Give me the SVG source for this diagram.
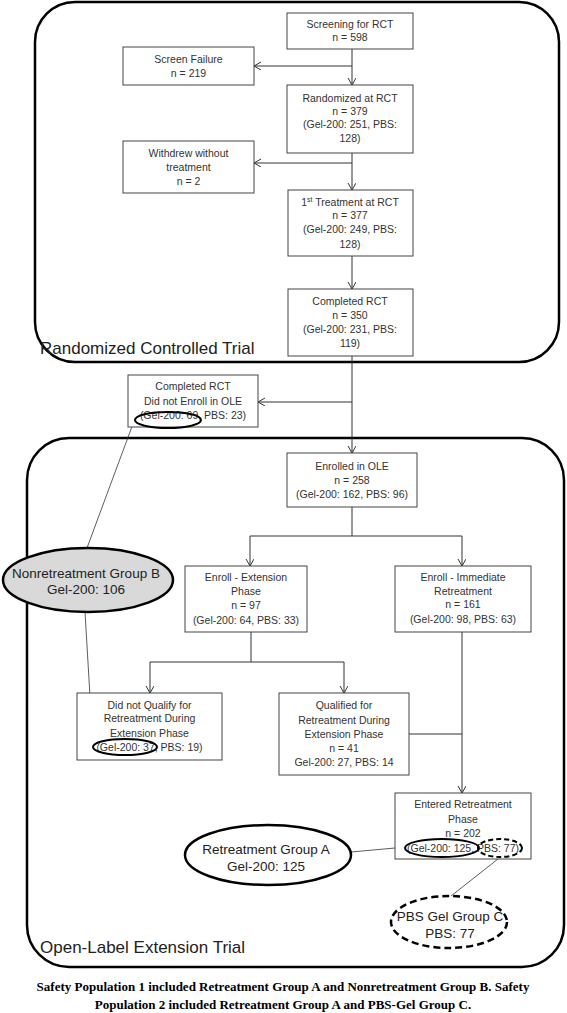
<svg xmlns="http://www.w3.org/2000/svg" width="567" height="1013" viewBox="0 0 567 1013">
<style>
.frame{fill:none;stroke:#000;stroke-width:2.5}
.box{fill:#fff;stroke:#444;stroke-width:1}
.t{font-family:"Liberation Sans",Arial,sans-serif;font-size:10.5px;fill:#333;text-anchor:middle}
.lbl{font-family:"Liberation Sans",Arial,sans-serif;font-size:17px;fill:#222}
.ell{font-family:"Liberation Sans",Arial,sans-serif;font-size:13.5px;fill:#222;text-anchor:middle}
.cap{font-family:"Liberation Serif","Times New Roman",serif;font-size:13px;font-weight:bold;fill:#000;text-anchor:middle}
.c{fill:none;stroke:#333;stroke-width:1}
.thin{fill:none;stroke:#333;stroke-width:0.8}
</style>
<defs>
<marker id="arr" markerWidth="10" markerHeight="10" refX="8" refY="4" orient="auto" markerUnits="userSpaceOnUse">
<path d="M1,0 L8,4 L1,8" fill="none" stroke="#333" stroke-width="1"/>
</marker>
</defs>
<rect width="567" height="1013" fill="#fff"/>

<g id="frame-rct">
<rect class="frame" x="35" y="2" width="524" height="360" rx="40" ry="40"/>
<text class="lbl" x="40" y="354">Randomized Controlled Trial</text>
</g>
<g id="frame-ole">
<rect class="frame" x="27" y="438" width="537" height="529" rx="42" ry="42"/>
<text class="lbl" x="40" y="953">Open-Label Extension Trial</text>
</g>

<g id="connectors">
<path class="c" d="M352,49 V85" marker-end="url(#arr)"/>
<path class="c" d="M352,66 H254" marker-end="url(#arr)"/>
<path class="c" d="M352,153 V190" marker-end="url(#arr)"/>
<path class="c" d="M352,163 H254" marker-end="url(#arr)"/>
<path class="c" d="M352,256 V289" marker-end="url(#arr)"/>
<path class="c" d="M352,356 V453" marker-end="url(#arr)"/>
<path class="c" d="M352,402 H258" marker-end="url(#arr)"/>
<path class="c" d="M352,507 V536"/>
<path class="c" d="M250,536 H462"/>
<path class="c" d="M250,536 V566" marker-end="url(#arr)"/>
<path class="c" d="M462,536 V566" marker-end="url(#arr)"/>
<path class="c" d="M251,632 V662"/>
<path class="c" d="M150,662 H344"/>
<path class="c" d="M150,662 V693" marker-end="url(#arr)"/>
<path class="c" d="M344,662 V693" marker-end="url(#arr)"/>
<path class="c" d="M462,632 V793" marker-end="url(#arr)"/>
<path class="c" d="M409,734 H462"/>
<path class="thin" d="M87,548 L137,413"/>
<path class="thin" d="M85,612 L93,747"/>
<path class="thin" d="M351,852 L406,847"/>
<path class="thin" d="M498,859 L451,896"/>
</g>

<g id="screening">
<rect class="box" x="287" y="13" width="126" height="36"/>
<text class="t" x="350" y="28">Screening for RCT</text>
<text class="t" x="350" y="41">n = 598</text>
</g>
<g id="screen-failure">
<rect class="box" x="123" y="47" width="131" height="38"/>
<text class="t" x="188.5" y="63">Screen Failure</text>
<text class="t" x="188.5" y="77">n = 219</text>
</g>
<g id="randomized">
<rect class="box" x="287" y="85" width="126" height="68"/>
<text class="t" x="350" y="102">Randomized at RCT</text>
<text class="t" x="350" y="115">n = 379</text>
<text class="t" x="350" y="128">(Gel-200: 251, PBS:</text>
<text class="t" x="350" y="142">128)</text>
</g>
<g id="withdrew">
<rect class="box" x="123" y="141" width="131" height="52"/>
<text class="t" x="188.5" y="157">Withdrew without</text>
<text class="t" x="188.5" y="171">treatment</text>
<text class="t" x="188.5" y="185">n = 2</text>
</g>
<g id="first-treatment">
<rect class="box" x="288" y="190" width="125" height="66"/>
<text class="t" x="350" y="206">1<tspan font-size="7" dy="-4">st</tspan><tspan dy="4"> Treatment  at RCT</tspan></text>
<text class="t" x="350" y="219">n = 377</text>
<text class="t" x="350" y="233">(Gel-200: 249, PBS:</text>
<text class="t" x="350" y="248">128)</text>
</g>
<g id="completed-rct">
<rect class="box" x="288" y="289" width="125" height="67"/>
<text class="t" x="350" y="305">Completed  RCT</text>
<text class="t" x="350" y="319">n = 350</text>
<text class="t" x="350" y="333">(Gel-200: 231, PBS:</text>
<text class="t" x="350" y="347">119)</text>
</g>
<g id="not-enrolled">
<rect class="box" x="128" y="375" width="130" height="52"/>
<text class="t" x="193" y="390">Completed  RCT</text>
<text class="t" x="193" y="405">Did not Enroll in OLE</text>
<text class="t" x="193" y="419">(Gel-200: 69, PBS: 23)</text>
<ellipse cx="168" cy="420" rx="33" ry="8" fill="none" stroke="#000" stroke-width="2"/>
</g>
<g id="enrolled-ole">
<rect class="box" x="287" y="453" width="130" height="54"/>
<text class="t" x="352" y="470">Enrolled in OLE</text>
<text class="t" x="352" y="484">n = 258</text>
<text class="t" x="352" y="498">(Gel-200: 162, PBS: 96)</text>
</g>
<g id="enroll-extension">
<rect class="box" x="185" y="566" width="122" height="66"/>
<text class="t" x="246" y="581">Enroll - Extension</text>
<text class="t" x="246" y="595">Phase</text>
<text class="t" x="246" y="609">n = 97</text>
<text class="t" x="246" y="624">(Gel-200: 64, PBS: 33)</text>
</g>
<g id="enroll-immediate">
<rect class="box" x="395" y="566" width="136" height="66"/>
<text class="t" x="463" y="581">Enroll - Immediate</text>
<text class="t" x="463" y="595">Retreatment</text>
<text class="t" x="463" y="608">n = 161</text>
<text class="t" x="463" y="623">(Gel-200: 98, PBS: 63)</text>
</g>
<g id="did-not-qualify">
<rect class="box" x="77" y="693" width="145" height="67"/>
<text class="t" x="149.5" y="709">Did not Qualify for</text>
<text class="t" x="149.5" y="722">Retreatment  During</text>
<text class="t" x="149.5" y="737">Extension Phase</text>
<text class="t" x="149.5" y="751">(Gel-200: 37, PBS: 19)</text>
<ellipse cx="125" cy="747" rx="32" ry="8" fill="none" stroke="#000" stroke-width="2"/>
</g>
<g id="qualified">
<rect class="box" x="279" y="693" width="130" height="82"/>
<text class="t" x="344" y="709">Qualified for</text>
<text class="t" x="344" y="724">Retreatment  During</text>
<text class="t" x="344" y="738">Extension Phase</text>
<text class="t" x="344" y="752">n = 41</text>
<text class="t" x="344" y="766">Gel-200: 27, PBS: 14</text>
</g>
<g id="entered-retreatment">
<rect class="box" x="395" y="793" width="136" height="66"/>
<text class="t" x="463" y="808">Entered  Retreatment</text>
<text class="t" x="463" y="823">Phase</text>
<text class="t" x="463" y="837">n = 202</text>
<text class="t" x="463" y="852">(Gel-200: 125, PBS: 77)</text>
<ellipse cx="442" cy="848" rx="37" ry="9" fill="none" stroke="#000" stroke-width="2"/>
<ellipse cx="500" cy="848" rx="22" ry="9" fill="none" stroke="#000" stroke-width="2" stroke-dasharray="5,3"/>
</g>
<g id="group-b">
<ellipse cx="88" cy="580" rx="85" ry="32" fill="#d9d9d9" stroke="#000" stroke-width="2.5"/>
<text class="ell" x="86" y="578">Nonretreatment  Group B</text>
<text class="ell" x="86" y="594">Gel-200: 106</text>
</g>
<g id="group-a">
<ellipse cx="268" cy="855" rx="83" ry="30" fill="#fff" stroke="#000" stroke-width="2.5"/>
<text class="ell" x="266" y="854">Retreatment  Group A</text>
<text class="ell" x="266" y="871">Gel-200: 125</text>
</g>
<g id="group-c">
<ellipse cx="449" cy="922" rx="58" ry="26" fill="#fff" stroke="#000" stroke-width="2.5" stroke-dasharray="7,4"/>
<text class="ell" x="450" y="921" font-size="12.5px">PBS Gel Group  C</text>
<text class="ell" x="450" y="938" font-size="12.5px">PBS: 77</text>
</g>

<g id="caption">
<text class="cap" x="283" y="991">Safety Population 1 included Retreatment Group A and Nonretreatment Group B. Safety</text>
<text class="cap" x="283" y="1009">Population 2 included Retreatment Group A and PBS-Gel Group C.</text>
</g>
</svg>
